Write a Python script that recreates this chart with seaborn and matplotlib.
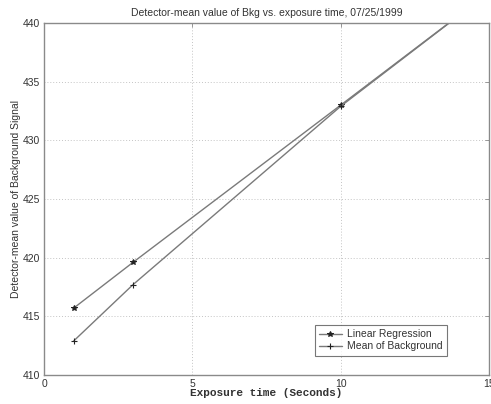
import matplotlib
matplotlib.use("Agg")
import matplotlib.pyplot as plt
import seaborn as sns
import pandas as pd

# Data
exposure = [1, 3, 10, 15]
linear_regression = [415.7, 419.6, 433.0, 442.6]
mean_background = [412.9, 417.7, 432.9, 442.6]

x_ticks = [0, 5, 10, 15]
y_ticks = [410, 415, 420, 425, 430, 435, 440]

title = "Detector-mean value of Bkg vs. exposure time, 07/25/1999"
xlabel = "Exposure time (Seconds)"
ylabel = "Detector-mean value of Background Signal"

sns.set_style("white")
plt.rcParams["font.family"] = ["Liberation Sans", "DejaVu Sans"]

df_reg = pd.DataFrame({"x": exposure, "y": linear_regression})
df_mean = pd.DataFrame({"x": exposure, "y": mean_background})

fig = plt.figure(figsize=(4.91, 4.04), dpi=100)
ax = fig.add_axes([44 / 491, 1 - 375 / 404, (489 - 44) / 491, (375 - 23) / 404])

line_col = "#7a7a7a"
mk_col = "#222222"

sns.lineplot(data=df_reg, x="x", y="y", ax=ax, color=line_col, lw=1.0,
             marker="*", markersize=4, markerfacecolor=mk_col,
             markeredgecolor=mk_col, label="Linear Regression", clip_on=True)
sns.lineplot(data=df_mean, x="x", y="y", ax=ax, color=line_col, lw=1.0,
             marker="+", markersize=5, markeredgecolor=mk_col,
             markeredgewidth=0.8, label="Mean of Background", clip_on=True)

ax.set_xlim(0, 15)
ax.set_ylim(410, 440)
ax.set_xticks(x_ticks)
ax.set_xticklabels([str(t) for t in x_ticks])
ax.set_yticks(y_ticks)
ax.grid(True, linestyle=(0, (1, 2)), color="#c4c4c4", lw=0.7)
ax.tick_params(direction="in", length=3, width=0.6, color="#888888",
               labelsize=7.5, labelcolor="#333333", top=True, right=True,
               pad=3)
for s in ax.spines.values():
    s.set_visible(True)
    s.set_color("#8a8a8a")
    s.set_linewidth(1.0)

ax.set_title(title, fontsize=7.5, color="#333333", pad=5)
ax.set_xlabel(xlabel, fontsize=8, fontweight="bold", color="#333333",
              family=["Liberation Mono", "DejaVu Sans Mono"], labelpad=-1)
ax.set_ylabel(ylabel, fontsize=7.5, color="#333333", labelpad=1)

leg = ax.legend(loc="lower right", bbox_to_anchor=(0.905, 0.055),
                fontsize=7.5, frameon=True, fancybox=False,
                handlelength=2.2, borderpad=0.4, labelspacing=0.2,
                handletextpad=0.5, borderaxespad=0)
leg.get_frame().set_edgecolor("#555555")
leg.get_frame().set_linewidth(0.8)
for t in leg.get_texts():
    t.set_color("#333333")

fig.savefig("out.png", dpi=100)
